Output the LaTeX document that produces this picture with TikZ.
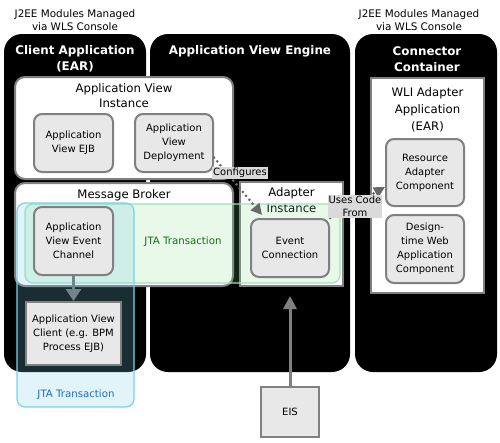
\documentclass[tikz,border=0pt]{standalone}
\usepackage{fontspec}
\setmainfont{DejaVu Sans}
\usetikzlibrary{arrows.meta}

\definecolor{boxgray}{RGB}{128,128,128}
\definecolor{dotgray}{RGB}{105,105,105}
\definecolor{compfill}{RGB}{232,232,232}
\definecolor{jtagreen}{RGB}{120,215,130}
\definecolor{jtagreenline}{RGB}{160,225,190}
\definecolor{jtacyan}{RGB}{120,205,230}
\definecolor{jtacyanline}{RGB}{120,210,235}
\definecolor{jtagreentext}{RGB}{20,110,20}
\definecolor{jtabluetext}{RGB}{30,110,190}
\definecolor{tagbg}{RGB}{218,218,218}
\definecolor{flowgray}{RGB}{112,132,140}

\tikzset{
    panel/.style={fill=black, rounded corners=18pt},
    toptitle/.style={align=center, font=\fontsize{10.4}{13}\selectfont},
    paneltitle/.style={align=center, text=white, font=\bfseries\fontsize{11.9}{16.5}\selectfont},
    whitebox/.style={draw=boxgray, line width=2pt, fill=white},
    boxtitle/.style={align=center, font=\fontsize{11.7}{15.5}\selectfont},
    comp/.style={draw=boxgray, line width=2pt, fill=compfill, rounded corners=8pt,
        align=center, inner sep=1pt, font=\fontsize{10}{14}\selectfont},
    compsq/.style={comp, sharp corners},
    jtagreenbox/.style={draw=jtagreenline, line width=1.2pt, fill=jtagreen,
        fill opacity=0.17, rounded corners=8pt},
    jtacyanbox/.style={draw=jtacyanline, line width=1.2pt, fill=jtacyan,
        fill opacity=0.22, rounded corners=8pt},
    jtatext/.style={font=\fontsize{10.2}{12}\selectfont},
    tagbox/.style={fill=tagbg, align=center, inner sep=1pt,
        font=\fontsize{10}{12.5}\selectfont},
    dotarrow/.style={draw=dotgray, line width=3pt, line cap=round,
        dash pattern=on 0pt off 5pt, -{Triangle[length=11pt,width=11pt]}},
    flowarrow/.style={draw=flowgray, line width=3pt, -{Triangle[length=12pt,width=15pt]}},
    eisarrow/.style={draw=boxgray, line width=3pt, -{Triangle[length=13pt,width=13pt]}}
}

\begin{document}
\begin{tikzpicture}[x=1pt, y=-1pt]
    \useasboundingbox (0,0) rectangle (500,442);

    % Paneles negros
    \fill[panel] (4,34) rectangle (146,372);
    \fill[panel] (150,34) rectangle (350,372);
    \fill[panel] (355,34) rectangle (497,372);

    \node[toptitle] (modsleft) at (75,20.5) {J2EE Modules Managed\\via WLS Console};
    \node[toptitle] (modsright) at (419,20.5) {J2EE Modules Managed\\via WLS Console};

    \node[paneltitle] (clientapp) at (75,59) {Client Application\\(EAR)};
    \node[paneltitle] (avengine) at (250,51) {Application View Engine};
    \node[paneltitle] (conncont) at (427,59) {Connector\\Container};

    % Cajas blancas
    \node[whitebox, rounded corners=10pt, minimum width=218pt, minimum height=102pt] (avinst) at (124,128) {};
    \node[boxtitle] (avinsttitle) at (124,95.5) {Application View\\Instance};
    \node[whitebox, rounded corners=10pt, minimum width=218pt, minimum height=103pt] (msgbroker) at (124,234.5) {};
    \node[boxtitle] (msgbrokertitle) at (124,195) {Message Broker};
    \node[whitebox, minimum width=103pt, minimum height=104pt] (adinst) at (291.5,234) {};
    \node[boxtitle] (adinsttitle) at (291.5,200) {Adapter\\Instance};
    \node[whitebox, minimum width=113pt, minimum height=215pt] (wliapp) at (427.5,185.5) {};
    \node[boxtitle, font=\fontsize{11.7}{17}\selectfont] (wliapptitle) at (427.5,110) {WLI Adapter\\Application\\(EAR)};

    % Transacciones JTA
    \draw[jtagreenbox] (25,204) rectangle (340,283);
    \draw[jtacyanbox] (17,203) rectangle (134,407);
    \node[jtatext, text=jtagreentext] (jtagreenlbl) at (183,242) {JTA Transaction};
    \node[jtatext, text=jtabluetext] (jtabluelbl) at (76,395) {JTA Transaction};

    % Componentes
    \node[comp, minimum width=79pt, minimum height=58pt] (avejb) at (73.5,143) {Application\\View EJB};
    \node[comp, minimum width=78pt, minimum height=58pt] (avdeploy) at (174,143) {Application\\View\\Deployment};
    \node[comp, minimum width=79pt, minimum height=68pt] (evchannel) at (73.5,241) {Application\\View Event\\Channel};
    \node[compsq, minimum width=95pt, minimum height=63pt] (avclient) at (73.5,333.5) {Application View\\Client (e.g. BPM\\Process EJB)};
    \node[comp, minimum width=78pt, minimum height=58pt] (evconn) at (290,248) {Event\\Connection};
    \node[comp, minimum width=78pt, minimum height=67pt] (resadapter) at (425,172.5) {Resource\\Adapter\\Component};
    \node[comp, minimum width=78pt, minimum height=68pt] (designweb) at (425,249) {Design-\\time Web\\Application\\Component};
    \node[compsq, minimum width=58pt, minimum height=50pt] (eis) at (290,412) {EIS};

    % Flechas
    \draw[flowarrow] (evchannel) -- (avclient);
    \coordinate (eistip) at (290,296);
    \draw[eisarrow] (eis) -- (eistip);

    \coordinate (cfgtip) at (262,215);
    \draw[dotarrow] (avdeploy.-20) -- (cfgtip);
    \node[tagbox] (cfglabel) at (240,173) {Configures};

    \draw[dotarrow] (evconn.north east) -- (resadapter.200);
    \node[tagbox] (useslabel) at (355,206.5) {Uses Code\\From};
\end{tikzpicture}
\end{document}
